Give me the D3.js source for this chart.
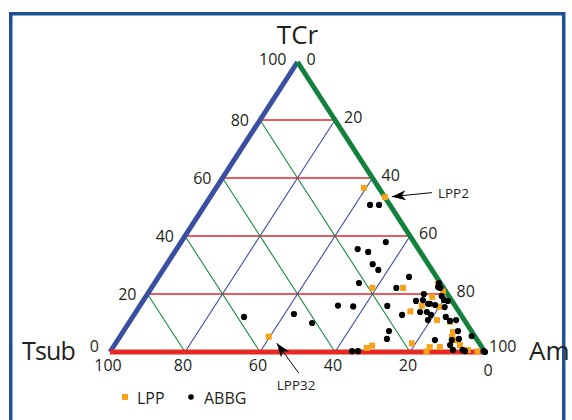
<!DOCTYPE html>
<html><head><meta charset="utf-8">
<script src="https://cdn.jsdelivr.net/npm/d3@7"></script>
<style>
body{margin:0;background:#fff}
svg{display:block}
text{font-family:"Open Sans",sans-serif;fill:#231f20}
</style>
</head><body>
<svg id="c" width="572" height="420"></svg>
<script>
// ---- data ----
const ticks = [0, 20, 40, 60, 80, 100];
const gridTicks = [20, 40, 60, 80];
const axisNames = ["TCr", "Tsub", "Am"];
const seriesNames = ["LPP", "ABBG"];

const lppTCr  = [56.6,53.4,22.1,22.1,5.3,1.4,2.2,23.6,20.9,19.0,15.9,14.0,11.0,6.9,4.1,1.7,2.4,0.7,0.2,1.7,0.2,3.0,15.6,10.4,5.2];
const lppTsub = [4.0,0.0,19.0,10.8,55.0,30.8,29.0,0.7,0.8,4.6,8.9,12.9,7.3,5.1,6.0,11.2,5.5,4.2,1.9,13.9,15.5,18.0,4.5,4.1,6.2];
const lppAm   = [39.4,46.6,58.9,67.1,39.7,67.8,68.8,75.7,78.3,76.4,75.2,73.1,81.7,88.0,89.9,87.1,92.1,95.1,97.9,84.4,84.3,79.0,79.9,85.5,88.6];

const abbgTCr  = [50.7,50.7,37.9,35.5,34.5,30.3,28.3,23.8,25.9,22.1,12.1,13.1,10.0,16.0,15.7,15.9,7.2,4.5,0.3,0.3,23.8,22.1,20.0,17.6,17.9,16.6,19.3,17.9,17.6,15.5,13.8,13.8,12.8,12.8,11.0,12.1,11.0,10.7,7.2,5.5,4.1,4.1,2.4,0.7,0.7,0.3,16.6,16.2,22.4,4.5,0.3,0.0];
const abbgTsub = [5.3,2.9,7.5,16.2,13.9,14.8,14.3,21.7,7.3,12.6,58.2,44.4,41.1,31.2,27.3,18.1,22.0,23.9,35.3,33.7,0.4,0.9,6.3,9.6,7.6,6.4,1.9,2.0,1.1,3.0,10.4,8.6,8.0,15.7,9.7,4.4,2.2,4.0,3.6,0.8,11.3,6.8,8.1,8.2,5.6,0.2,6.9,5.2,1.3,4.7,5.2,0.0];
const abbgAm   = [44.0,46.4,54.6,48.3,51.6,54.9,57.4,54.5,66.8,65.3,29.7,42.5,48.9,52.8,57.0,66.0,70.8,71.6,64.4,66.0,75.8,77.0,73.7,72.8,74.5,77.0,78.8,80.1,81.3,81.5,75.8,77.6,79.2,71.5,79.3,83.5,86.8,85.3,89.2,93.7,84.6,89.1,89.5,91.1,93.7,99.5,76.5,78.6,76.3,90.8,94.5,100.0];

const annotations = [{label: "LPP2", index: 1}, {label: "LPP32", index: 4}];

// ---- drawing ----
const svg = d3.select("#c");
const yS = d3.scaleLinear().domain([0, 100]).range([352, 62]);
const xS = d3.scaleLinear().domain([0, 100]).range([110, 485]);
const proj = (t, s, a) => [xS(a + t / 2), yS(t)];
const line = d3.line();

// frame
svg.append("rect").attr("x", 10.75).attr("y", 13.75).attr("width", 553).attr("height", 430)
  .attr("fill", "none").attr("stroke", "#1f4f95").attr("stroke-width", 3.5);

const g = svg.append("g");
// grid lines
gridTicks.forEach(v => {
  g.append("path").attr("d", line([proj(v, 100 - v, 0), proj(v, 0, 100 - v)]))
    .attr("stroke", "#e3262b").attr("stroke-width", 1.3).attr("fill", "none");
  g.append("path").attr("d", line([proj(100 - v, v, 0), proj(0, v, 100 - v)]))
    .attr("stroke", "#15893c").attr("stroke-width", 1.1).attr("fill", "none");
  g.append("path").attr("d", line([proj(100 - v, 0, v), proj(0, 100 - v, v)]))
    .attr("stroke", "#3a4ca0").attr("stroke-width", 1.1).attr("fill", "none");
});
// edges
g.append("path").attr("d", line([proj(0, 100, 0), proj(100, 0, 0)])).attr("stroke", "#3a4ea2").attr("stroke-width", 5).attr("fill", "none");
g.append("path").attr("d", line([proj(100, 0, 0), proj(0, 0, 100)])).attr("stroke", "#12813b").attr("stroke-width", 5).attr("fill", "none");
g.append("path").attr("d", line([proj(0, 100, 0), proj(0, 0, 100)])).attr("stroke", "#e52a22").attr("stroke-width", 5).attr("fill", "none");

// tick labels
ticks.forEach(v => {
  const pl = proj(v, 100 - v, 0);
  g.append("text").attr("x", pl[0] - 11).attr("y", pl[1] + 5.7 - (v === 0 ? 5.5 : v === 100 ? 2.5 : 0))
    .attr("text-anchor", "end").attr("font-size", 16).text(v);
  const pr = proj(100 - v, 0, v);
  g.append("text").attr("x", pr[0] + (v === 100 ? 4 : 9)).attr("y", pr[1] + 5.7 - (v === 100 ? 6 : 3))
    .attr("text-anchor", "start").attr("font-size", 16).text(v);
  const pb = proj(0, v, 100 - v);
  g.append("text").attr("x", pb[0] + (v === 0 ? 3 : -2)).attr("y", v === 0 ? 376 : 371)
    .attr("text-anchor", "middle").attr("font-size", 16).text(v);
});

// axis names
const apex = proj(100, 0, 0);
g.append("text").attr("x", apex[0]).attr("y", 43.5).attr("text-anchor", "middle").attr("font-size", 26).text(axisNames[0]);
g.append("text").attr("x", 22).attr("y", 360).attr("font-size", 25).attr("letter-spacing", -0.8).text(axisNames[1]);
g.append("text").attr("x", 529).attr("y", 360).attr("font-size", 26).text(axisNames[2]);

// points
const lpp = lppTCr.map((t, i) => proj(t, lppTsub[i], lppAm[i]));
const abbg = abbgTCr.map((t, i) => proj(t, abbgTsub[i], abbgAm[i]));
g.selectAll("rect.lpp").data(lpp).join("rect").attr("class", "lpp")
  .attr("x", d => d[0] - 3).attr("y", d => d[1] - 3).attr("width", 6).attr("height", 6).attr("fill", "#f6a31b");
g.selectAll("circle.abbg").data(abbg).join("circle").attr("class", "abbg")
  .attr("cx", d => d[0]).attr("cy", d => d[1]).attr("r", 3.1).attr("fill", "#000");

// annotations
const defs = svg.append("defs");
defs.append("marker").attr("id", "ah").attr("markerUnits", "userSpaceOnUse")
  .attr("viewBox", "-14 -6 16 12").attr("refX", 0).attr("refY", 0)
  .attr("markerWidth", 16).attr("markerHeight", 12).attr("orient", "auto")
  .append("path").attr("d", "M0,0 L-14,-5 L-10,0 L-14,5 Z").attr("fill", "#000");

const a1 = lpp[annotations[0].index];
g.append("path").attr("d", line([[a1[0] + 47, a1[1] - 4.5], [a1[0] + 7, a1[1] - 0.5]]))
  .attr("stroke", "#000").attr("stroke-width", 1).attr("marker-end", "url(#ah)");
g.append("text").attr("x", a1[0] + 53).attr("y", a1[1] + 1).attr("font-size", 13.5).text(annotations[0].label);

const a2 = lpp[annotations[1].index];
g.append("path").attr("d", line([[a2[0] + 30, a2[1] + 36.5], [a2[0] + 8, a2[1] + 6.5]]))
  .attr("stroke", "#000").attr("stroke-width", 1).attr("marker-end", "url(#ah)");
g.append("text").attr("x", a2[0] + 8).attr("y", 390).attr("font-size", 13.5).text(annotations[1].label);

// legend
const lg = svg.append("g");
lg.append("rect").attr("x", 122).attr("y", 394).attr("width", 6).attr("height", 6).attr("fill", "#f6a31b");
lg.append("text").attr("x", 137).attr("y", 403.5).attr("font-size", 16).text(seriesNames[0]);
lg.append("circle").attr("cx", 191).attr("cy", 397).attr("r", 2.8).attr("fill", "#000");
lg.append("text").attr("x", 204).attr("y", 403.5).attr("font-size", 16).text(seriesNames[1]);
</script>
</body></html>
